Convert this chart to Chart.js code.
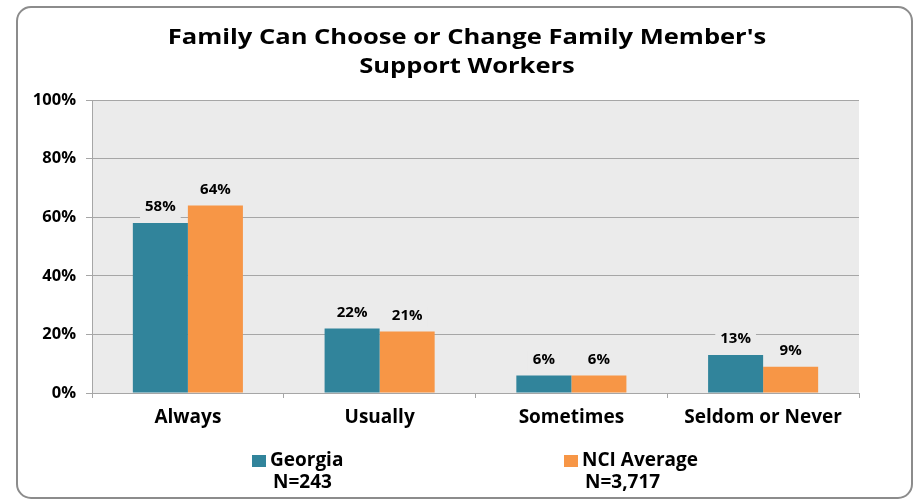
<!DOCTYPE html>
<html>
<head>
<meta charset="utf-8">
<script src="https://cdn.jsdelivr.net/npm/chart.js@4.4.1/dist/chart.umd.min.js"></script>
<style>
  html, body { margin: 0; padding: 0; background: #ffffff; }
  #wrap { width: 921px; height: 501px; }
</style>
</head>
<body>
<div id="wrap"><canvas id="c" width="921" height="501"></canvas></div>
<script>
// Chart content
const categories = ['Always', 'Usually', 'Sometimes', 'Seldom or Never'];
const georgia = [58, 22, 6, 13];
const nciAverage = [64, 21, 6, 9];
const seriesNames = ['Georgia', 'NCI Average'];
const sampleSizes = ['N=243', 'N=3,717'];
const yTicks = [0, 20, 40, 60, 80, 100];
const titleLines = ["Family Can Choose or Change Family Member's", 'Support Workers'];

const FONT = '"Open Sans", sans-serif';
const TEAL = '#31849b';
const ORANGE = '#f79646';
const PLOT_BG = '#ebebeb';
const GRID = '#a6a6a6';

// Panel frame and plot background
const framePlugin = {
  id: 'frame',
  beforeDraw(chart) {
    const ctx = chart.ctx;
    const a = chart.chartArea;
    ctx.save();
    ctx.fillStyle = '#ffffff';
    ctx.fillRect(0, 0, chart.width, chart.height);
    ctx.strokeStyle = '#8c8c8c';
    ctx.lineWidth = 2;
    ctx.beginPath();
    ctx.roundRect(17, 7, 895, 491, 14);
    ctx.stroke();
    ctx.fillStyle = PLOT_BG;
    ctx.fillRect(a.left, a.top, a.right - a.left, a.bottom - a.top);
    ctx.restore();
  }
};

// Percentage labels above every bar
const valueLabels = {
  id: 'valueLabels',
  afterDatasetsDraw(chart) {
    const ctx = chart.ctx;
    ctx.save();
    ctx.font = 'bold 15px ' + FONT;
    ctx.textAlign = 'center';
    ctx.textBaseline = 'middle';
    chart.data.datasets.forEach((ds, i) => {
      chart.getDatasetMeta(i).data.forEach((bar, j) => {
        const txt = ds.data[j] + '%';
        const cy = bar.y - 16;
        const w = ctx.measureText(txt).width + 10;
        ctx.fillStyle = PLOT_BG;
        ctx.fillRect(bar.x - w / 2, cy - 9, w, 21);
        ctx.fillStyle = '#000000';
        ctx.fillText(txt, bar.x, cy);
      });
    });
    ctx.restore();
  }
};

// Two-line title and legend with sample sizes
const textPlugin = {
  id: 'texts',
  afterDraw(chart) {
    const ctx = chart.ctx;
    ctx.save();
    ctx.fillStyle = '#000000';
    ctx.textBaseline = 'middle';
    ctx.textAlign = 'center';
    ctx.font = 'bold 22px ' + FONT;
    // the title face is set slightly wide
    const stretch = 1.16;
    titleLines.forEach((line, i) => {
      ctx.save();
      ctx.translate(467, 38 + i * 29);
      ctx.scale(stretch, 1);
      ctx.fillText(line, 0, 0);
      ctx.restore();
    });

    ctx.textAlign = 'left';
    ctx.font = 'bold 19px ' + FONT;
    const starts = [252, 564];
    chart.data.datasets.forEach((ds, i) => {
      const x = starts[i];
      ctx.fillStyle = ds.backgroundColor;
      ctx.fillRect(x, 455, 14, 12);
      ctx.fillStyle = '#000000';
      ctx.fillText(ds.label, x + 18, 461);
      ctx.fillText(sampleSizes[i], x + 21, 483);
    });
    ctx.restore();
  }
};

new Chart(document.getElementById('c'), {
  type: 'bar',
  data: {
    labels: categories,
    datasets: [
      { label: seriesNames[0], data: georgia, backgroundColor: TEAL },
      { label: seriesNames[1], data: nciAverage, backgroundColor: ORANGE }
    ]
  },
  options: {
    responsive: false,
    animation: false,
    devicePixelRatio: 1,
    layout: { padding: { top: 100, right: 62, left: 0, bottom: 0 } },
    datasets: { bar: { categoryPercentage: 0.574, barPercentage: 1.0 } },
    plugins: {
      legend: { display: false },
      title: { display: false },
      tooltip: { enabled: false }
    },
    scales: {
      x: {
        grid: { display: true, drawOnChartArea: false, drawTicks: true, tickLength: 5, color: GRID, offset: true },
        border: { display: true, color: GRID, width: 1 },
        ticks: { color: '#000000', font: { family: FONT, size: 19, weight: 'bold' }, padding: 8, maxRotation: 0 },
        afterFit(scale) { scale.height = 108; }
      },
      y: {
        min: 0,
        max: 100,
        afterBuildTicks(scale) { scale.ticks = yTicks.map(v => ({ value: v })); },
        grid: { color: GRID, tickLength: 6 },
        border: { display: true, color: GRID, width: 1 },
        ticks: {
          color: '#000000',
          font: { family: FONT, size: 16.5, weight: 'bold' },
          padding: 10,
          callback: v => v + '%'
        },
        afterFit(scale) { scale.width = 92; }
      }
    }
  },
  plugins: [framePlugin, valueLabels, textPlugin]
});
</script>
</body>
</html>
